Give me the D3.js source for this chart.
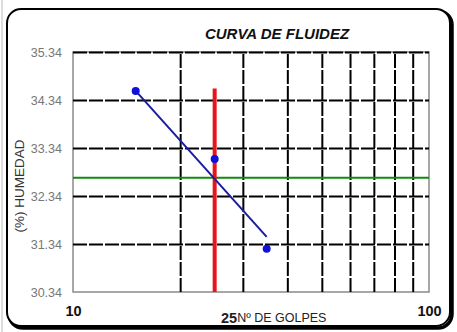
<!DOCTYPE html>
<html>
<head>
<meta charset="utf-8">
<script src="https://cdn.jsdelivr.net/npm/d3@7"></script>
<style>
  html, body { margin: 0; padding: 0; background: #fff; }
  svg { display: block; }
</style>
</head>
<body>
<div id="chart"></div>
<script>
// Flow curve (curva de fluidez): moisture content vs. number of blows
const golpes = [15, 25, 35];
const humedad = [34.53, 33.11, 31.24];

// Fitted flow line end points
const lineaX = [15, 35];
const lineaY = [34.53, 31.49];

// Reference at 25 blows
const golpesRef = 25;
const humedadRef = 32.72;
const topeRojo = 34.58;

const xGrid = [20, 30, 40, 50, 60, 70, 80, 90];
const yTicks = [30.34, 31.34, 32.34, 33.34, 34.34, 35.34];
const yTickLabels = ["30.34", "31.34", "32.34", "33.34", "34.34", "35.34"];
const xTickLabels = ["10", "100"];

const W = 457, H = 332;
const plot = { left: 73, right: 429, top: 52, bottom: 292 };

const svg = d3.select("#chart").append("svg")
  .attr("width", W).attr("height", H);

// outer frame with a heavier right/bottom edge
svg.append("line").attr("x1", 2).attr("x2", 2).attr("y1", 0).attr("y2", H)
  .attr("stroke", "#bbb").attr("stroke-width", 1);
svg.append("rect").attr("x", 9).attr("y", 11).attr("width", 443).attr("height", 317)
  .attr("rx", 14).attr("fill", "none").attr("stroke", "#000").attr("stroke-width", 3.5);
svg.append("rect").attr("x", 7).attr("y", 9).attr("width", 443).attr("height", 317)
  .attr("rx", 14).attr("fill", "#fff").attr("stroke", "#000").attr("stroke-width", 2);

const x = d3.scaleLog().domain([10, 100]).range([plot.left, plot.right]);
const y = d3.scaleLinear().domain([30.34, 35.34]).range([plot.bottom, plot.top]);

// plot area border
svg.append("rect")
  .attr("x", plot.left).attr("y", plot.top)
  .attr("width", plot.right - plot.left).attr("height", plot.bottom - plot.top)
  .attr("fill", "#fff").attr("stroke", "#8a8a8a").attr("stroke-width", 1.5);

// vertical grid
const gx = svg.append("g")
  .attr("transform", `translate(0,${plot.bottom})`)
  .call(d3.axisBottom(x).tickValues(xGrid).tickSize(-(plot.bottom - plot.top)).tickFormat(""));
gx.select(".domain").remove();
gx.selectAll(".tick line").attr("stroke", "#000").attr("stroke-width", 2)
  .attr("stroke-dasharray", "14,2");

// horizontal grid
const gy = svg.append("g")
  .attr("transform", `translate(${plot.left},0)`)
  .call(d3.axisLeft(y).tickValues(yTicks.slice(1)).tickSize(-(plot.right - plot.left)).tickFormat(""));
gy.select(".domain").remove();
gy.selectAll(".tick line").attr("stroke", "#000").attr("stroke-width", 2)
  .attr("stroke-dasharray", "14,2");

// y tick labels
const ly = svg.append("g")
  .attr("transform", `translate(${plot.left},0)`)
  .call(d3.axisLeft(y).tickValues(yTicks).tickSize(0).tickPadding(11)
    .tickFormat((d, i) => yTickLabels[i]));
ly.select(".domain").remove();
ly.selectAll("text").attr("font-family", "Liberation Sans, Arial, sans-serif")
  .attr("font-size", 12.5).attr("fill", "#777");

// x tick labels (10 and 100)
const lx = svg.append("g")
  .attr("transform", `translate(0,${plot.bottom})`)
  .call(d3.axisBottom(x).tickValues([10, 100]).tickSize(0).tickPadding(14)
    .tickFormat((d, i) => xTickLabels[i]));
lx.select(".domain").remove();
lx.selectAll("text").attr("font-family", "Liberation Sans, Arial, sans-serif")
  .attr("font-size", 14.5).attr("font-weight", "bold").attr("fill", "#111");

// horizontal reference (green)
svg.append("line")
  .attr("x1", plot.left).attr("x2", plot.right)
  .attr("y1", y(humedadRef)).attr("y2", y(humedadRef))
  .attr("stroke", "#118a11").attr("stroke-width", 2);

// vertical reference at 25 blows (red)
svg.append("line")
  .attr("x1", x(golpesRef)).attr("x2", x(golpesRef))
  .attr("y1", y(topeRojo)).attr("y2", plot.bottom)
  .attr("stroke", "#e8141c").attr("stroke-width", 4);

// flow line
svg.append("path")
  .datum(d3.zip(lineaX, lineaY))
  .attr("d", d3.line().x(d => x(d[0])).y(d => y(d[1])))
  .attr("fill", "none").attr("stroke", "#1c1ca0").attr("stroke-width", 2);

// data points
svg.append("g").selectAll("circle")
  .data(d3.zip(golpes, humedad))
  .join("circle")
  .attr("cx", d => x(d[0])).attr("cy", d => y(d[1])).attr("r", 4)
  .attr("fill", "#1010d8");

// title
svg.append("text")
  .attr("x", 277).attr("y", 39).attr("text-anchor", "middle")
  .attr("font-family", "Liberation Sans, Arial, sans-serif")
  .attr("font-size", 15).attr("font-weight", "bold").attr("font-style", "italic")
  .attr("fill", "#111").text("CURVA DE FLUIDEZ");

// axis titles
const xt = svg.append("text").attr("x", 221).attr("y", 323)
  .attr("font-family", "Liberation Sans, Arial, sans-serif").attr("fill", "#222");
xt.append("tspan").attr("font-size", 14.5).attr("font-weight", "bold").text("25");
xt.append("tspan").attr("font-size", 12.5).attr("dy", -1).text("Nº DE GOLPES");

svg.append("text")
  .attr("transform", "translate(24,186) rotate(-90)")
  .attr("text-anchor", "middle")
  .attr("font-family", "Liberation Sans, Arial, sans-serif")
  .attr("font-size", 13.5).attr("fill", "#333").text("(%) HUMEDAD");
</script>
</body>
</html>
